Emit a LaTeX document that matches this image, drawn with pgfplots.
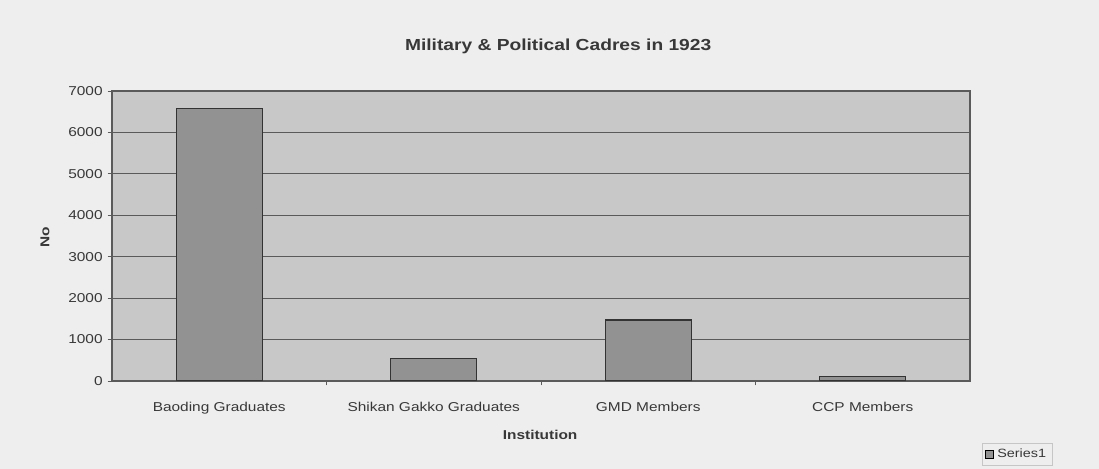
\documentclass[border=0pt]{standalone}
\usepackage{fontspec}
\setmainfont{Liberation Sans}[FakeStretch=1.2]
\usepackage{pgfplots}
\pgfplotsset{compat=1.18}
\definecolor{bg}{HTML}{EEEEEE}
\definecolor{plotbg}{HTML}{C8C8C8}
\definecolor{barc}{HTML}{929292}
\definecolor{gridc}{HTML}{5A5A5A}
\definecolor{txt}{HTML}{383838}
\begin{document}
\begin{tikzpicture}[x=1pt,y=1pt]
\fill[bg] (-78.4,-61.6) rectangle (690.9,266.7);
\begin{axis}[
  at={(0,0)}, anchor=south west,
  scale only axis, width=600.6pt, height=203pt,
  xmin=-0.5, xmax=3.5, ymin=0, ymax=7000,
  ytick={0,1000,...,7000},
  xtick={0,1,2,3},
  xticklabels={Baoding Graduates, Shikan Gakko Graduates, GMD Members, CCP Members},
  minor xtick={0.5,1.5,2.5},
  major x tick style={draw=none},
  minor tick length=3pt, major tick length=3pt,
  tick align=outside,
  xtick pos=bottom, ytick pos=left,
  ymajorgrids,
  grid style={gridc, line width=0.7pt},
  axis line style={gridc, line width=0.9pt},
  tick style={gridc, line width=0.6pt},
  axis background/.style={fill=plotbg},
  ybar, bar width=60.2pt,
  scaled y ticks=false,
  /pgf/number format/.cd, 1000 sep={}, assume math mode=true,
  /pgfplots/.cd,
  tick label style={font=\fontsize{9}{10}\selectfont, text=txt},
  x tick label style={yshift=-8.2pt},
  title={Military \& Political Cadres in 1923},
  title style={at={(0.52,1.124)}, anchor=center, font=\bfseries\fontsize{11.2}{13}\selectfont, text=txt},
  xlabel={Institution},
  xlabel style={at={(0.499,-0.186)}, anchor=center, font=\bfseries\fontsize{9}{10}\selectfont, text=txt},
  ylabel={No},
  ylabel style={at={(-0.078,0.497)}, anchor=center, font=\bfseries\fontsize{9}{10}\selectfont, text=txt},
  legend style={at={(1.055,-0.252)}, anchor=center, draw=gray!45, fill=bg, font=\fontsize{8.4}{9}\selectfont, text=txt, inner sep=2pt},
  legend image code/.code={\draw[fill=barc, draw=black, line width=0.7pt] (0pt,-2.8pt) rectangle (5.6pt,2.8pt);},
]
\addplot[fill=barc, draw=black!80, line width=0.9pt] coordinates {(0,6580) (1,550) (2,1470) (3,100)};
\addlegendentry{Series1}
\end{axis}
\end{tikzpicture}
\end{document}
